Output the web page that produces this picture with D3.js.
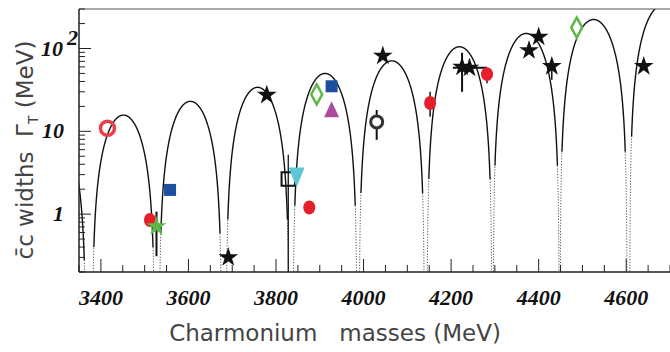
<!DOCTYPE html>
<html>
<head>
<meta charset="utf-8">
<script src="https://cdn.jsdelivr.net/npm/d3@7"></script>
<style>
  body { margin: 0; background: #fff; }
  svg { display: block; }
  .tick-label { font-family: "Liberation Serif", serif; font-weight: bold; font-style: italic; font-size: 22px; fill: #111; }
  .axis-title { font-family: "DejaVu Sans", sans-serif; font-size: 23px; fill: #444; }
</style>
</head>
<body>
<div id="chart"></div>
<script>
var margin = { top: 9, right: 0, bottom: 80, left: 79 };
var width = 670, height = 352;

// lobes of the theoretical width curve: lower zero, upper zero, peak width (MeV)
var lobeLo   = [3222, 3380, 3533, 3686, 3839, 3990, 4145, 4296, 4449, 4608];
var lobeHi   = [3366, 3523, 3676, 3830, 3985, 4139, 4293, 4447, 4602, 4763];
var lobePeak = [11, 15.7, 23, 34, 50, 71, 105, 152, 224, 340];

// measured states: mass, width
var blackStars  = [[3691, 0.30], [3779, 27.4], [4044, 81.6], [4225, 60], [4242, 58.4], [4378, 95], [4400, 138], [4430, 61], [4640, 61]];
var greenStars  = [[3527, 0.71]];
var redDots     = [[3512, 0.85], [3876, 1.2], [4152, 22], [4282, 49]];
var blueSquares = [[3558, 1.96], [3927, 35]];
var openSquares = [[3828, 2.65]];
var cyanTris    = [[3847, 2.84]];
var purpleTris  = [[3927, 18]];
var greenDiams  = [[3893, 27.9], [4487, 179]];
var redRings    = [[3415, 10.9]];
var blackRings  = [[4030, 13]];

// error bars: [mass, low, high, lineWidth] vertical ; [width, low, high] horizontal
var vErrors = [[3527, 0.31, 1.07, 2], [3828, 0.2, 5.2, 1.3], [4030, 7.9, 18.1, 2], [4152, 15, 30, 1.5], [4225, 30, 89, 2], [4282, 38, 58, 1.5], [4430, 42, 70, 1.5]];
var hErrors = [[58.4, 4204, 4282]];

var xTicksMajor = [3400, 3600, 3800, 4000, 4200, 4400, 4600];
var yTickLabels = [{ v: 1, t: "1" }, { v: 10, t: "10" }, { v: 100, t: "10", sup: "2" }];

var svg = d3.select("#chart").append("svg")
    .attr("width", width)
    .attr("height", height);

var x = d3.scaleLinear().domain([3350, 4700]).range([margin.left, width - margin.right]);
var y = d3.scaleLog().domain([0.2, 300]).range([height - margin.bottom, margin.top]);

svg.append("defs").append("clipPath").attr("id", "plot-clip")
    .append("rect")
    .attr("x", margin.left).attr("y", margin.top)
    .attr("width", width - margin.left - margin.right)
    .attr("height", height - margin.bottom - margin.top);

var plot = svg.append("g").attr("clip-path", "url(#plot-clip)");

// curve lobes, solid in the upper part and dotted where it dives to zero
var line = d3.line()
    .x(function(d) { return x(d[0]); })
    .y(function(d) { return y(Math.max(d[1], 0.05)); });

for (var k = 0; k < lobeLo.length; k++) {
    var lo = lobeLo[k], hi = lobeHi[k], A = lobePeak[k];
    var pts = d3.range(0, 1.00001, 0.0025).map(function(t) {
        return [lo + t * (hi - lo), A * Math.pow(Math.sin(Math.PI * t), 1.5)];
    });
    var solid = pts.filter(function(p) { return p[1] / A >= 0.025; });
    var left = pts.filter(function(p) { return p[0] <= solid[0][0]; });
    var right = pts.filter(function(p) { return p[0] >= solid[solid.length - 1][0]; });
    plot.append("path").datum(solid)
        .attr("d", line).attr("fill", "none")
        .attr("stroke", "#111").attr("stroke-width", 1.4);
    [left, right].forEach(function(seg) {
        plot.append("path").datum(seg)
            .attr("d", line).attr("fill", "none")
            .attr("stroke", "#555").attr("stroke-width", 1)
            .attr("stroke-dasharray", "1.2,1.6");
    });
}

// error bars
plot.selectAll(".verr").data(vErrors).enter().append("line")
    .attr("x1", function(d) { return x(d[0]); })
    .attr("x2", function(d) { return x(d[0]); })
    .attr("y1", function(d) { return y(d[1]); })
    .attr("y2", function(d) { return y(d[2]); })
    .attr("stroke", "#111").attr("stroke-width", function(d) { return d[3]; });

plot.selectAll(".herr").data(hErrors).enter().append("line")
    .attr("x1", function(d) { return x(d[1]); })
    .attr("x2", function(d) { return x(d[2]); })
    .attr("y1", function(d) { return y(d[0]); })
    .attr("y2", function(d) { return y(d[0]); })
    .attr("stroke", "#111").attr("stroke-width", 2);

function place(d) { return "translate(" + x(d[0]) + "," + y(d[1]) + ")"; }

function drawPath(data, pathStr, fill, stroke, sw) {
    plot.selectAll(null).data(data).enter().append("path")
        .attr("transform", place)
        .attr("d", pathStr)
        .attr("fill", fill)
        .attr("stroke", stroke)
        .attr("stroke-width", sw || 0)
        .attr("stroke-linejoin", "miter");
}

var star = d3.symbol().type(d3.symbolStar).size(120)();
var square = d3.symbol().type(d3.symbolSquare).size(144)();

drawPath(blueSquares, square, "#1d4f9e", "none");
drawPath(openSquares, d3.symbol().type(d3.symbolSquare).size(180)(), "none", "#111", 2);
drawPath(cyanTris, "M-8,-9L8,-9L0,11Z", "#5cc6d8", "none");
drawPath(purpleTris, "M0,-9L7.5,7L-7.5,7Z", "#ad4c9e", "none");
drawPath(greenDiams, "M0,-10L5.5,0L0,10L-5.5,0Z", "none", "#5cb848", 2.5);

plot.selectAll(".reddot").data(redDots).enter().append("ellipse")
    .attr("cx", function(d) { return x(d[0]); })
    .attr("cy", function(d) { return y(d[1]); })
    .attr("rx", 6).attr("ry", 7)
    .attr("fill", "#e6202a");

plot.selectAll(".redring").data(redRings).enter().append("circle")
    .attr("cx", function(d) { return x(d[0]); })
    .attr("cy", function(d) { return y(d[1]); })
    .attr("r", 7)
    .attr("fill", "none").attr("stroke", "#e8404a").attr("stroke-width", 3.5);

plot.selectAll(".blackring").data(blackRings).enter().append("circle")
    .attr("cx", function(d) { return x(d[0]); })
    .attr("cy", function(d) { return y(d[1]); })
    .attr("r", 6)
    .attr("fill", "#fff").attr("stroke", "#333").attr("stroke-width", 3);

drawPath(greenStars, star, "#5cb848", "none");
drawPath(blackStars, star, "#111", "none");

// frame
var axis = svg.append("g");
axis.append("line")
    .attr("x1", margin.left).attr("x2", margin.left)
    .attr("y1", margin.top).attr("y2", y.range()[0])
    .attr("stroke", "#222").attr("stroke-width", 1.5);
axis.append("line")
    .attr("x1", margin.left).attr("x2", width)
    .attr("y1", y.range()[0]).attr("y2", y.range()[0])
    .attr("stroke", "#222").attr("stroke-width", 1.5);
axis.append("line")
    .attr("x1", margin.left).attr("x2", width)
    .attr("y1", margin.top).attr("y2", margin.top)
    .attr("stroke", "#555").attr("stroke-width", 1.2);

// x ticks (inward)
var xMinor = d3.range(3350, 4701, 50);
axis.selectAll(".xt").data(xMinor).enter().append("line")
    .attr("x1", function(d) { return x(d); })
    .attr("x2", function(d) { return x(d); })
    .attr("y1", y.range()[0])
    .attr("y2", function(d) { return y.range()[0] - (xTicksMajor.indexOf(d) >= 0 ? 13 : 7); })
    .attr("stroke", "#222").attr("stroke-width", 1);

axis.selectAll(".xl").data(xTicksMajor).enter().append("text")
    .attr("class", "tick-label")
    .attr("x", function(d) { return x(d); })
    .attr("y", 305)
    .attr("text-anchor", "middle")
    .text(function(d) { return d; });

// y ticks (inward)
var yTicks = y.ticks();
axis.selectAll(".yt").data(yTicks).enter().append("line")
    .attr("x1", margin.left)
    .attr("x2", function(d) { return margin.left + ([1, 10, 100].indexOf(d) >= 0 ? 12 : 6); })
    .attr("y1", function(d) { return y(d); })
    .attr("y2", function(d) { return y(d); })
    .attr("stroke", "#222").attr("stroke-width", 1);

var yl = axis.selectAll(".yl").data(yTickLabels).enter().append("text")
    .attr("class", "tick-label")
    .attr("x", 64)
    .attr("y", function(d) { return y(d.v) + 7; })
    .attr("text-anchor", "end");
yl.append("tspan").text(function(d) { return d.t; });
yl.filter(function(d) { return d.sup; })
    .attr("x", 78)
    .append("tspan")
    .attr("dx", 4)
    .attr("dy", -11)
    .text(function(d) { return d.sup; });

// titles
svg.append("text")
    .attr("class", "axis-title")
    .attr("x", 335)
    .attr("y", 341)
    .attr("text-anchor", "middle")
    .attr("xml:space", "preserve")
    .text("Charmonium   masses (MeV)");

var yt = svg.append("text")
    .attr("class", "axis-title")
    .attr("text-anchor", "middle")
    .attr("transform", "translate(33,150)rotate(-90)")
    .attr("xml:space", "preserve");
yt.append("tspan").text("c\u0304c widths  \u0393");
yt.append("tspan").attr("dy", 5).style("font-size", "14px").text("T");
yt.append("tspan").attr("dy", -5).text(" (MeV)");
</script>
</body>
</html>
